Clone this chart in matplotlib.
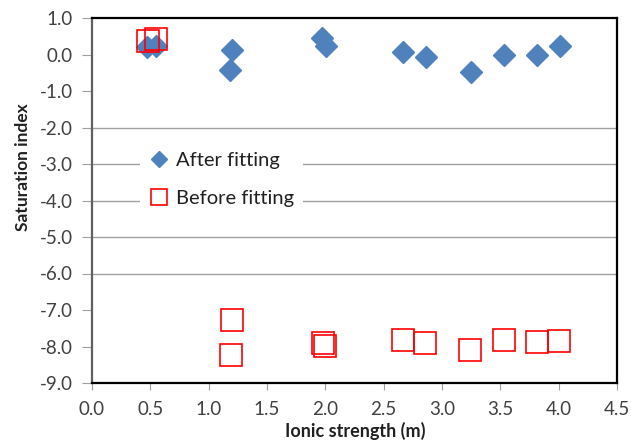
import matplotlib
matplotlib.use("Agg")
import matplotlib.pyplot as plt
import numpy as np

plt.rcParams['font.family'] = ['Lato', 'DejaVu Sans']

# ─── data ───
after_x = [0.47, 0.55, 1.20, 1.18, 1.97, 2.01, 2.67, 2.86, 3.25, 3.53, 3.81, 4.01]
after_y = [0.20, 0.22, 0.12, -0.43, 0.45, 0.23, 0.06, -0.08, -0.49, -0.02, -0.02, 0.23]

before_x = [0.48, 0.55, 1.20, 1.19, 1.98, 2.00, 2.67, 2.85, 3.24, 3.53, 3.81, 4.00]
before_y = [0.38, 0.43, -7.27, -8.24, -7.90, -7.98, -7.82, -7.90, -8.09, -7.82, -7.87, -7.84]

x_ticks = np.arange(0, 4.51, 0.5)
y_ticks = np.arange(-9, 1.01, 1.0)
grid_levels = [-2, -3, -4, -5, -6]

BLUE = "#4F81BD"
RED = "#FF0000"
GRID = "#A0A0A0"

fig = plt.figure(figsize=(6.31, 4.42), dpi=100)
ax = fig.add_axes([92 / 631, 1 - 383 / 442, 525 / 631, 365 / 442])

for g in grid_levels:
    ax.axhline(g, color=GRID, lw=1.0, zorder=0)

ax.plot(after_x, after_y, ls="none", marker="D", ms=11, color=BLUE,
        mec=BLUE, label="After fitting", zorder=3)
ax.plot(before_x, before_y, ls="none", marker="s", ms=15.5, mfc="none",
        mec=RED, mew=1.2, label="Before fitting", zorder=4)

ax.set_xlim(0, 4.5)
ax.set_ylim(-9, 1)
ax.set_xticks(x_ticks)
ax.set_xticklabels([f"{v:.1f}" for v in x_ticks])
ax.set_yticks(y_ticks)
ax.set_yticklabels([f"{v:.1f}" for v in y_ticks])
ax.tick_params(axis="both", labelsize=13.5, colors="#A0A0A0",
               labelcolor="#404040", direction="out")
ax.tick_params(axis="y", length=7, pad=7)
ax.tick_params(axis="x", length=5, pad=8)

for side in ["top", "right", "bottom"]:
    ax.spines[side].set_color("black")
    ax.spines[side].set_linewidth(1.6)
ax.spines["left"].set_color("#606060")
ax.spines["left"].set_linewidth(1.6)

fig.text(355 / 631, 1 - 431 / 442, "Ionic strength (m)", ha="center",
         va="center", fontsize=13, fontweight="bold", color="#202020")
fig.text(23 / 631, 1 - 167 / 442, "Saturation index", ha="center",
         va="center", rotation=90, fontsize=12.5, fontweight="bold",
         color="#202020")

leg = ax.legend(loc="upper left", bbox_to_anchor=(38 / 525, 1 - 116 / 365),
                frameon=True, facecolor="white", edgecolor="none",
                framealpha=1, fontsize=14.5, handletextpad=0.3,
                labelspacing=1.05, borderpad=0.4, markerscale=0.75,
                handlelength=1.1)
for t in leg.get_texts():
    t.set_color("#202020")

fig.savefig("out.png", dpi=100)
